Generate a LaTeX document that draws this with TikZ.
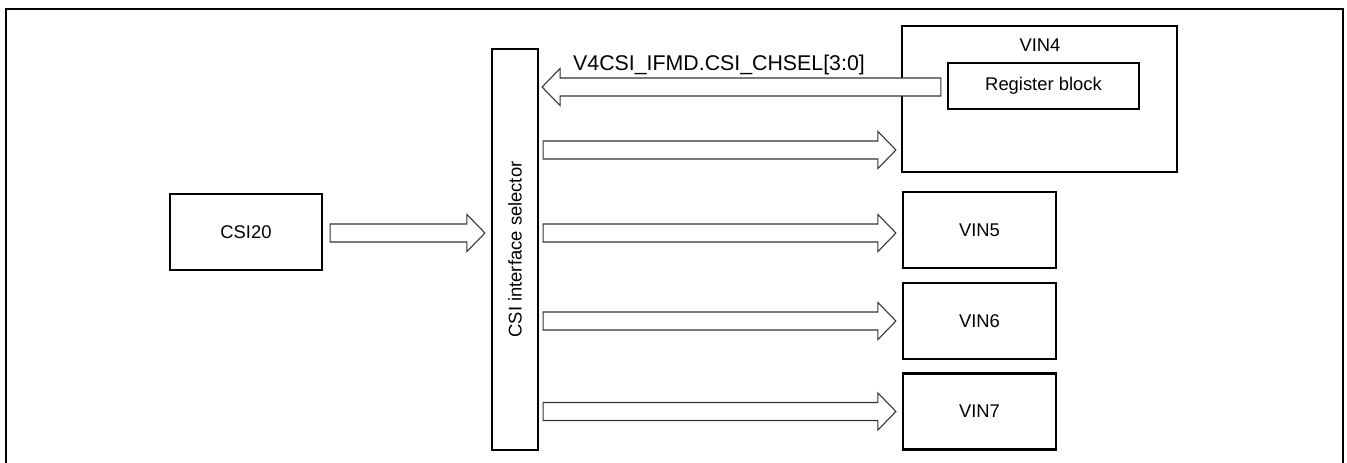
\documentclass[tikz,border=0pt]{standalone}
\usepackage{fontspec}
\setmainfont{Liberation Sans}
\usetikzlibrary{calc}
\tikzset{
  x=0.75pt,y=-0.75pt,
  box/.style={draw=black,line width=1.6pt,fill=white,inner sep=0pt,font=\fontsize{13.8}{16}\selectfont},
  txt/.style={inner sep=0pt,font=\fontsize{13.8}{16}\selectfont},
  biglbl/.style={inner sep=0pt,font=\fontsize{16}{19}\selectfont},
  fat/.style={draw=black!80,line width=0.8pt,fill=white,line join=miter},
  frame/.style={draw=black,line width=2.2pt}
}
\newcommand\fatarrow[3]{%
  \draw[fat] ($(#1)+(0,-9)$) -- ($(#2)+({-18*#3},-9)$) -- ($(#2)+({-18*#3},-18.5)$) -- (#2)
    -- ($(#2)+({-18*#3},18.5)$) -- ($(#2)+({-18*#3},9)$) -- ($(#1)+(0,9)$) -- cycle;}
\begin{document}
\begin{tikzpicture}
\useasboundingbox (0,0) rectangle (1347,463);
\draw[frame] (6,475) -- (6,9) -- (1343,9) -- (1343,475);

% boxes
\node[box,minimum width=114pt,minimum height=57pt] (csi) at (246,232) {CSI20};
\node[box,minimum width=34.5pt,minimum height=300.75pt] (sel) at (515,249.5) {};
\node[txt,rotate=90] (seltxt) at (sel.center) {CSI interface selector};
\node[box,minimum width=206.25pt,minimum height=109.5pt] (vin4) at (1039.5,99) {};
\node[txt] (vin4lbl) at (1040,45) {VIN4};
\node[box,minimum width=143.25pt,minimum height=34.5pt] (reg) at (1043.5,86) {Register block};
\node[box,minimum width=114.75pt,minimum height=57pt] (vin5) at (979.5,230) {VIN5};
\node[box,minimum width=114.75pt,minimum height=57pt] (vin6) at (979.5,321) {VIN6};
\node[box,minimum width=114.75pt,minimum height=57pt] (vin7) at (979.5,411.5) {VIN7};

% coordinates for arrows
\coordinate (a1s) at ($(csi.east)+(7,1)$);
\coordinate (a1t) at ($(sel.west |- a1s)+(-6,0)$);
\coordinate (ls) at ($(reg.west)+(-6,1)$);
\coordinate (lt) at ($(sel.east |- ls)+(3,0)$);
\coordinate (y4) at (0,150);
\coordinate (r4s) at ($(sel.east |- y4)+(4,0)$);
\coordinate (r4t) at ($(vin4.west |- y4)+(-5,0)$);
\coordinate (y5) at (0,233);
\coordinate (r5s) at ($(sel.east |- y5)+(4,0)$);
\coordinate (r5t) at ($(vin5.west |- y5)+(-6,0)$);
\coordinate (y6) at (0,321);
\coordinate (r6s) at ($(sel.east |- y6)+(4,0)$);
\coordinate (r6t) at ($(vin6.west |- y6)+(-6,0)$);
\coordinate (y7) at (0,411.5);
\coordinate (r7s) at ($(sel.east |- y7)+(4,0)$);
\coordinate (r7t) at ($(vin7.west |- y7)+(-6,0)$);

\fatarrow{a1s}{a1t}{1}
\fatarrow{ls}{lt}{-1}
\fatarrow{r4s}{r4t}{1}
\fatarrow{r5s}{r5t}{1}
\fatarrow{r6s}{r6t}{1}
\fatarrow{r7s}{r7t}{1}

\node[biglbl,anchor=base] (chsel) at (719,71) {V4CSI\_IFMD.CSI\_CHSEL[3:0]};
\end{tikzpicture}
\end{document}
